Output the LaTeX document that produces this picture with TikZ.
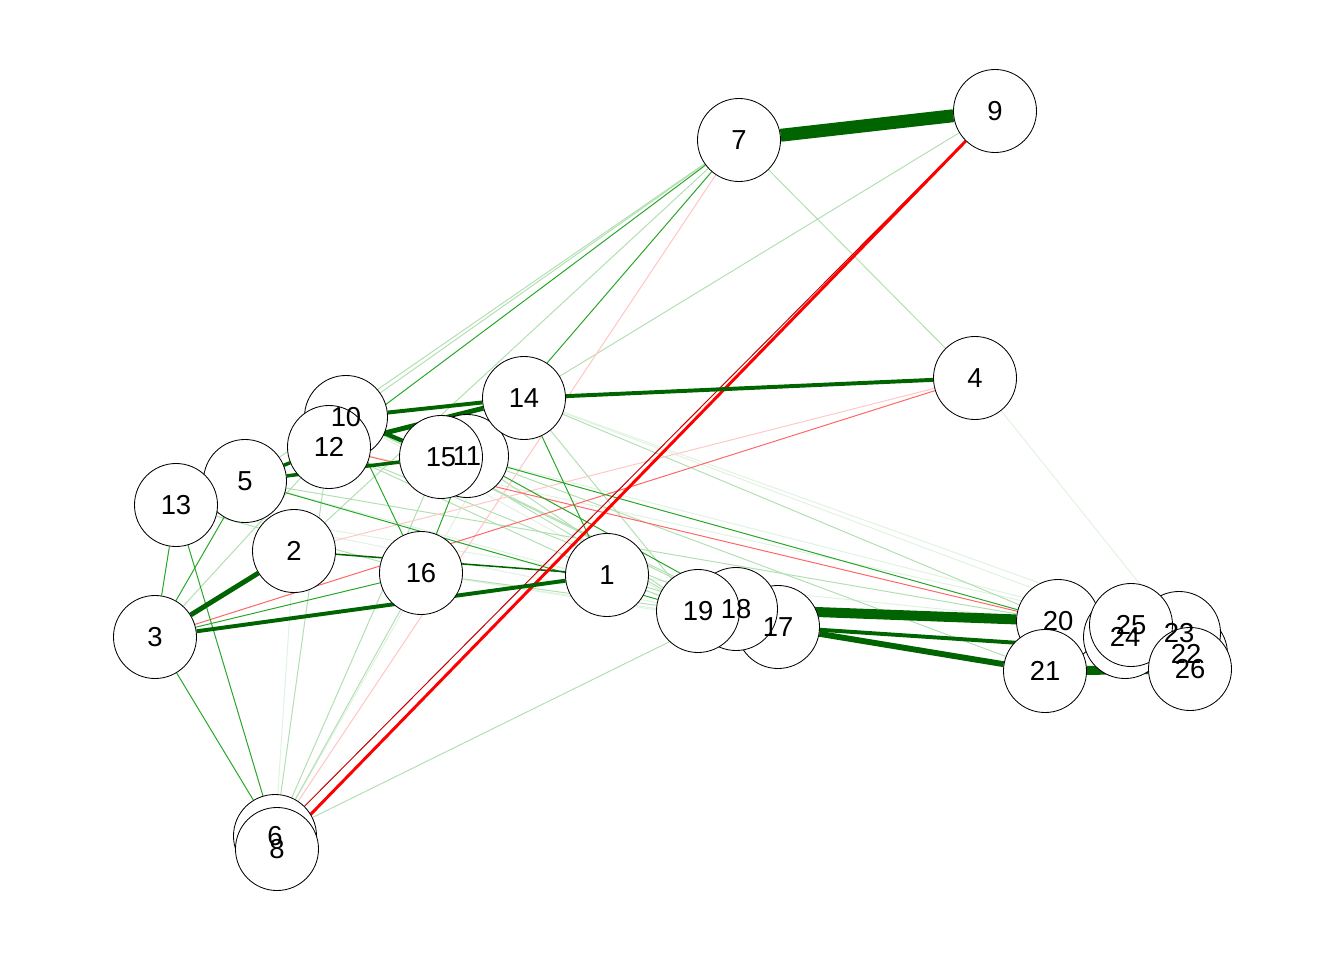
\documentclass[tikz,border=0pt]{standalone}
\usepackage{fontspec}
\setmainfont{Liberation Sans}
\usetikzlibrary{backgrounds}
\definecolor{dgreen}{RGB}{0,100,0}
\definecolor{mgreen}{RGB}{0,150,0}
\definecolor{nred}{RGB}{255,0,0}

\tikzset{
  vtx/.style={circle,draw=black,line width=0.6pt,fill=white,minimum size=2.075cm,inner sep=0pt},
  lbl/.style={inner sep=0pt,font=\fontsize{19.5}{22}\selectfont},
  pos/.style={draw=dgreen,line width=#1},
  posm/.style={draw=mgreen!85,line width=0.7pt},
  posl/.style={draw=mgreen!30,line width=0.7pt},
  posf/.style={draw=mgreen!12,line width=0.7pt},
  neg/.style={draw=nred,line width=#1},
  negl/.style={draw=nred!60,line width=0.7pt},
  negf/.style={draw=nred!22,line width=0.7pt},
}

\begin{document}
\begin{tikzpicture}[x=0.025cm,y=-0.025cm]
   \useasboundingbox (0,0) rectangle (1344,960);

   % vertices, later ones on top
   \foreach \i/\x/\y in {1/607/575, 2/294/551, 3/155/637, 4/975/378, 5/245/481,
       6/275/836, 7/739/140, 8/277/849, 9/995/111, 10/346/417, 11/467/456,
       12/329/447, 13/176/505, 14/524/398, 15/441/457, 16/421/573, 17/778/627,
       18/736/609, 19/698/611, 20/1058/621, 21/1045/671, 22/1186/654,
       23/1179/633, 24/1125/637, 25/1131/625, 26/1190/669}
     \node[vtx] (n\i) at (\x,\y) {};

   % labels after all circles
   \foreach \i in {1,...,26}
     \node[lbl] (t\i) at (n\i) {\i};

   \begin{scope}[on background layer]
     % weak edges
     \foreach \a/\b in {2/6, 14/6, 4/23, 14/23, 13/1, 13/19, 16/17, 5/17,
         14/25, 1/20, 16/21, 11/25, 10/19, 12/25}
       \draw[posf] (n\a) -- (n\b);
     \foreach \a/\b in {7/10, 7/2, 7/4, 9/14, 12/6, 15/6, 16/6, 6/18, 12/3,
         13/16, 10/18, 12/17, 15/19, 1/19, 1/17, 14/20, 11/21, 5/20,
         14/19, 16/19, 7/5, 12/1, 10/17, 11/19}
       \draw[posl] (n\a) -- (n\b);
     \foreach \a/\b in {7/6, 2/4}
       \draw[negf] (n\a) -- (n\b);
     \foreach \a/\b in {3/4, 12/20}
       \draw[negl] (n\a) -- (n\b);
     \foreach \a/\b in {13/3, 13/6, 5/3, 3/6, 5/19, 10/16, 11/16, 14/1,
         7/12, 7/11, 11/20, 3/16, 11/17}
       \draw[posm] (n\a) -- (n\b);
%     \draw[posm] (n16) -- (n1);
     % strong edges
     \draw[pos=1.1pt] (n2) -- (n1);
     \draw[neg=0.7pt,draw=nred!75!black] (n9) -- (n6);
     \draw[neg=2.1pt] (n9) -- (n8);
     \draw[pos=2.5pt] (n5) -- (n15);
     \draw[pos=2.5pt] (n5) -- (n12);
     \draw[pos=3pt] (n10) -- (n15);
     \draw[pos=2.8pt] (n3) -- (n1);
     \draw[pos=2.8pt] (n14) -- (n4);
     \draw[pos=2.8pt] (n10) -- (n14);
     \draw[pos=3.5pt] (n12) -- (n14);
     \draw[pos=3.5pt] (n2) -- (n3);
     \draw[pos=2.8pt] (n17) -- (n22);
     \draw[pos=4.2pt] (n17) -- (n21);
     \draw[pos=6.4pt] (n21) -- (n26);
     \draw[pos=7.1pt] (n18) -- (n20);
     \draw[pos=9.2pt] (n7) -- (n9);
   \end{scope}
\end{tikzpicture}
\end{document}
